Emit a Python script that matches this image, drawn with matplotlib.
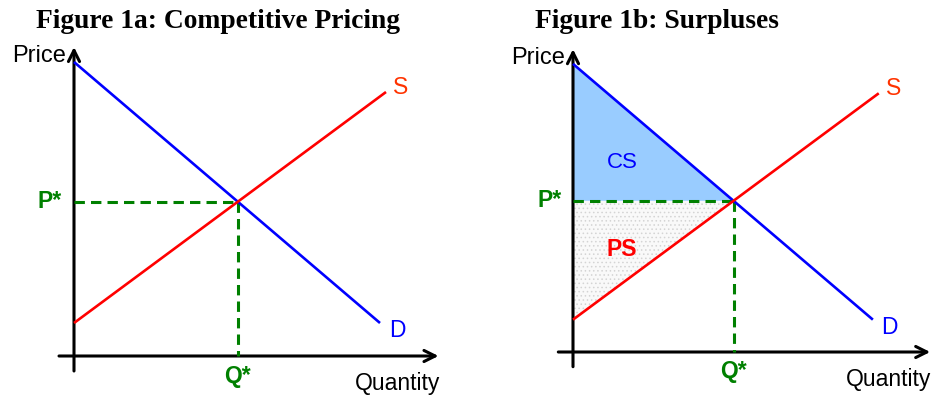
import matplotlib
matplotlib.use("Agg")
import matplotlib.pyplot as plt
from matplotlib.patches import Polygon

plt.rcParams["font.family"] = ["Liberation Sans", "DejaVu Sans"]
plt.rcParams["hatch.linewidth"] = 0.6

# Linear demand and supply curves (quantity, price)
demand_q = [0.0, 10.2]
demand_p = [9.8, 1.1]
supply_q = [0.0, 10.4]
supply_p = [1.1, 8.8]

titles = ["Figure 1a: Competitive Pricing", "Figure 1b: Surpluses"]

W, H = 934, 397
fig = plt.figure(figsize=(W / 100, H / 100), dpi=100)

BLUE = "#0000FF"
RED = "#FF0000"
GREEN = "#008000"


def equilibrium():
    sd = (demand_p[1] - demand_p[0]) / (demand_q[1] - demand_q[0])
    ss = (supply_p[1] - supply_p[0]) / (supply_q[1] - supply_q[0])
    q = (supply_p[0] - demand_p[0]) / (sd - ss)
    return q, demand_p[0] + sd * q


def make_axes(box, origin, scale):
    # box: (left, top, right, bottom) in pixels; origin: pixel of (0, 0)
    l, t, r, b = box
    ox, oy = origin
    ax = fig.add_axes([l / W, 1 - b / H, (r - l) / W, (b - t) / H])
    ax.set_xlim((l - ox) / scale, (r - ox) / scale)
    ax.set_ylim((oy - b) / scale, (oy - t) / scale)
    ax.axis("off")
    return ax


def draw_axes_lines(ax):
    arrow = dict(arrowstyle="->", lw=2.2, color="black",
                 shrinkA=0, shrinkB=0, mutation_scale=20)
    ax.annotate("", xy=(0, 10.3), xytext=(0, -0.5), arrowprops=arrow)
    ax.annotate("", xy=(12.15, 0), xytext=(-0.5, 0), arrowprops=arrow)
    ax.text(-0.28, 10.0, "Price", ha="right", va="center", fontsize=17)
    ax.text(12.2, -0.92, "Quantity", ha="right", va="center", fontsize=16.5)


def draw_curves(ax):
    ax.plot(demand_q, demand_p, color=BLUE, lw=1.9, solid_capstyle="butt", zorder=4)
    ax.plot(supply_q, supply_p, color=RED, lw=1.9, solid_capstyle="butt", zorder=4)
    ax.text(10.9, 8.95, "S", color="#FF3300", fontsize=16.5, ha="center", va="center")
    ax.text(10.77, 0.85, "D", color=BLUE, fontsize=16.5, ha="center", va="center")


def draw_equilibrium(ax):
    q, p = equilibrium()
    dash = (0, (3.4, 2.0))
    ax.plot([0, q], [p, p], color=GREEN, lw=2.2, linestyle=dash, zorder=3)
    ax.plot([q, q], [p, 0], color=GREEN, lw=2.2, linestyle=dash, zorder=3)
    ax.text(-0.4, p, "P*", color=GREEN, fontsize=16.5, fontweight="bold",
            ha="right", va="center")
    ax.text(q, -0.68, "Q*", color=GREEN, fontsize=16.5, fontweight="bold",
            ha="center", va="center")
    return q, p


# Panel a: competitive pricing
ax1 = make_axes((0, 40, 467, 397), (74, 356), 30.0)
draw_axes_lines(ax1)
draw_curves(ax1)
draw_equilibrium(ax1)

# Panel b: consumer and producer surplus
ax2 = make_axes((467, 40, 934, 397), (573, 352), 29.4)
draw_axes_lines(ax2)
draw_curves(ax2)
qs, ps = draw_equilibrium(ax2)
ax2.add_patch(Polygon([(0, ps), (0, demand_p[0]), (qs, ps)], closed=True,
                      facecolor="#99CCFF", edgecolor="none", zorder=1))
ax2.add_patch(Polygon([(0, supply_p[0]), (0, ps), (qs, ps)], closed=True,
                      facecolor="#F9F9F9", edgecolor="#D4D4D4", hatch="....",
                      linewidth=0, zorder=1))
ax2.text(1.67, 6.46, "CS", color=BLUE, fontsize=16, ha="center", va="center")
ax2.text(1.67, 3.47, "PS", color=RED, fontsize=16.5, fontweight="bold",
         ha="center", va="center")

# Panel titles
for x, title in zip([36, 535], titles):
    fig.text(x / W, 1 - 21 / H, title, ha="left", va="center",
             fontsize=19.8, fontweight="bold", family="Liberation Serif")

fig.savefig("out.png", dpi=100)
